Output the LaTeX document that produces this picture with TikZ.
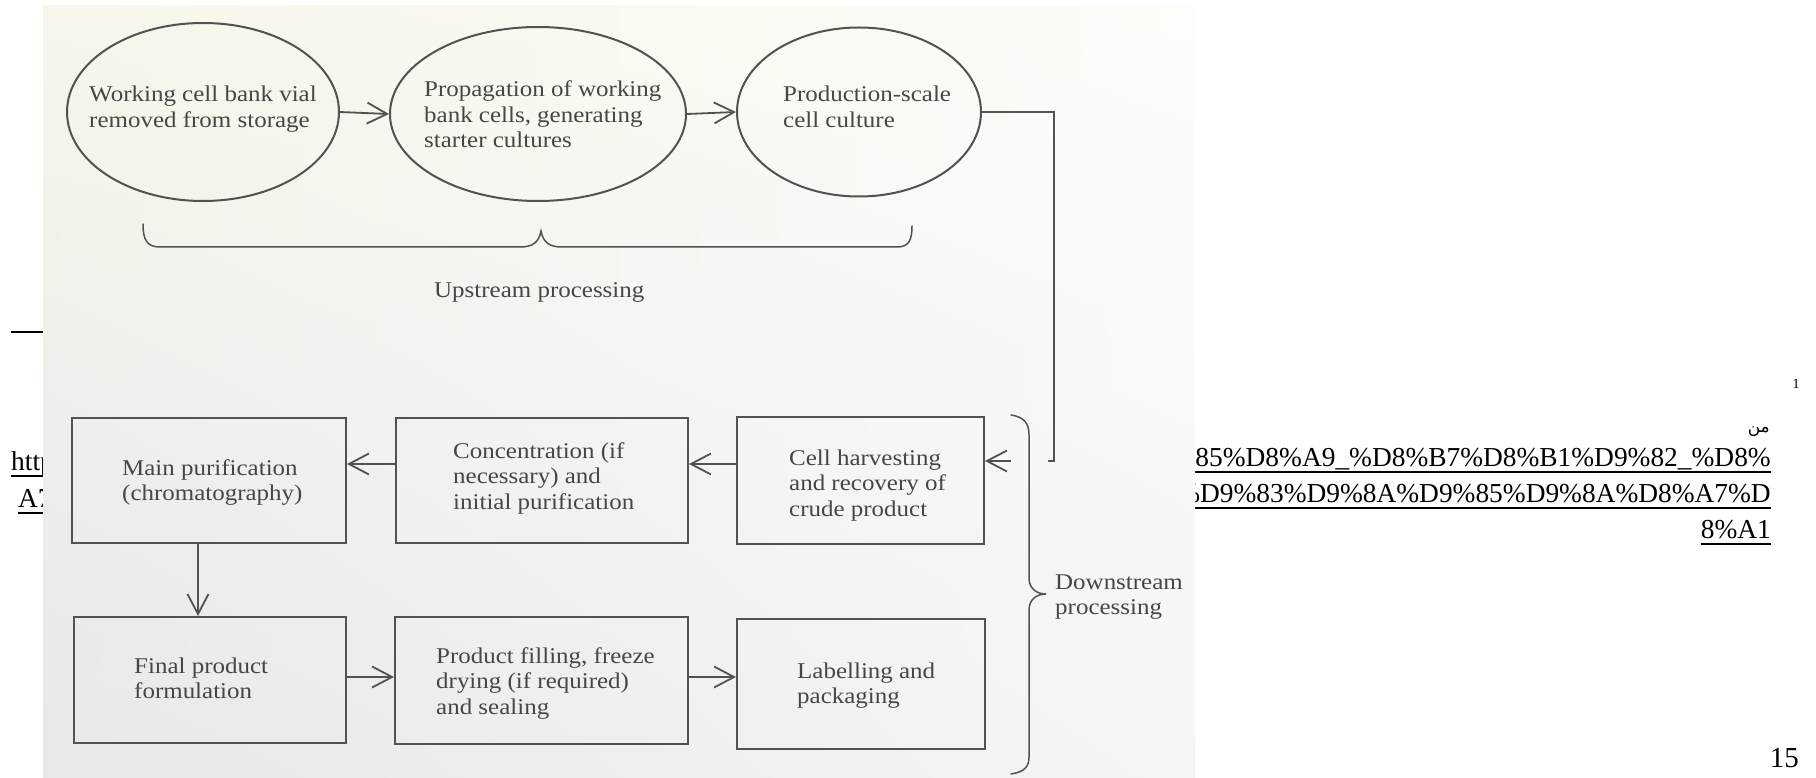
\documentclass[tikz,border=0pt]{standalone}
\usepackage{fontspec}
\setmainfont{Liberation Serif}
\newfontfamily\scanfont[FakeStretch=1.11]{Liberation Serif}
\newfontfamily\arabicfont[Script=Arabic]{DejaVu Sans}
\TeXXeTstate=1
\usetikzlibrary{arrows.meta,calc,shapes.geometric,shadings}

\definecolor{ink}{HTML}{525252}
\definecolor{inktext}{HTML}{464646}
\definecolor{scanUL}{HTML}{F8F6EA}
\definecolor{scanUR}{HTML}{FDFDF9}
\definecolor{scanLL}{HTML}{E8E7EB}
\definecolor{scanLR}{HTML}{F3F6F8}

% left-aligned block whose baseline is that of its first line
\newcommand{\stacklines}[1]{\begin{tabular}[t]{@{}l@{}}#1\end{tabular}}

\begin{document}
\begin{tikzpicture}[x=1pt,y=-1pt,
  doctext/.style={font=\fontsize{27.4}{27.4}\selectfont, text=black, inner sep=0pt},
  uline/.style={draw=black, line width=1.6pt},
  scantext/.style={font=\scanfont\fontsize{22.5}{25.5}\selectfont, text=inktext, inner sep=0pt, anchor=base west},
  ell/.style={draw=ink, line width=2pt, ellipse, inner sep=0pt},
  stepbox/.style={draw=ink, line width=2pt, rectangle, inner sep=0pt},
  link/.style={draw=ink, line width=1.7pt},
  arr/.style={draw=ink, line width=1.8pt, -{Straight Barb[length=20pt,width=21pt]}},
  bracepath/.style={draw=ink, line width=1.5pt, line cap=round}
]
\useasboundingbox (0,0) rectangle (1816,778);
\fill[white] (0,0) rectangle (1816,778);

% ---- page text lying behind the inserted scan ----
\draw[line width=2pt] (11,332) -- (70,332);
\node[doctext, anchor=base west] (urlL1) at (11,470) {https://ar};
\draw[uline] ([yshift=-6pt]urlL1.base west) -- ([yshift=-6pt]urlL1.base east);
\node[doctext, anchor=base west] (urlL2) at (18,507) {A7\%D8\%};
\draw[uline] ([yshift=-6pt]urlL2.base west) -- ([yshift=-6pt]urlL2.base east);

\node[doctext, anchor=base east] (urlR1) at (1771,466) {\%D9\%85\%D8\%A9\_\%D8\%B7\%D8\%B1\%D9\%82\_\%D8\%};
\draw[uline] ([yshift=-6pt]urlR1.base west) -- ([yshift=-6pt]urlR1.base east);
\node[doctext, anchor=base east] (urlR2) at (1771,502) {\%D9\%83\%D9\%8A\%D9\%85\%D9\%8A\%D8\%A7\%D};
\draw[uline] ([yshift=-6pt]urlR2.base west) -- ([yshift=-6pt]urlR2.base east);
\node[doctext, anchor=base east] (urlR3) at (1771,538) {8\%A1};
\draw[uline] ([yshift=-6pt]urlR3.base west) -- ([yshift=-6pt]urlR3.base east);

\node[font=\fontsize{14}{14}\selectfont, inner sep=0pt, anchor=base] (fnmark) at (1796,388) {1};
\node[font=\arabicfont\fontsize{17}{17}\selectfont, inner sep=0pt, anchor=base east] (fnword) at (1770,432) {\beginR من\endR};
\node[font=\fontsize{29}{29}\selectfont, inner sep=0pt, anchor=base east] (pageno) at (1799,767) {15};

% ---- the scanned figure ----
\shade[upper left=scanUL, upper right=scanUR, lower left=scanLL, lower right=scanLR]
  (43,6) rectangle (1195,778);

% upstream stages
\node[ell, minimum width=272pt, minimum height=178pt] (e1) at (203,112) {};
\node[ell, minimum width=296pt, minimum height=174pt] (e2) at (538,114) {};
\node[ell, minimum width=244pt, minimum height=169pt] (e3) at (859,112) {};
\node[scantext] (t1) at (89,102) {\stacklines{Working cell bank vial\\removed from storage}};
\node[scantext] (t2) at (424,97) {\stacklines{Propagation of working\\bank cells, generating\\starter cultures}};
\node[scantext] (t3) at (783,102) {\stacklines{Production-scale\\cell culture}};

\draw[arr] (e1.east) -- (e2.west);
\draw[arr] (e2.east) -- (e3.west);

% brace under the upstream stages
\draw[bracepath] (143,224) .. controls (143,240) and (147,247) .. (160,247)
  -- (520,247) .. controls (533,247) and (539,242) .. (541,231)
  .. controls (543,242) and (549,247) .. (562,247)
  -- (897,247) .. controls (909,247) and (912,240) .. (912,226);
\node[scantext] (up) at (434,298) {Upstream processing};

% downstream stages
\node[stepbox, minimum width=274pt, minimum height=125pt] (A) at (209,480.5) {};
\node[stepbox, minimum width=292pt, minimum height=125pt] (B) at (542,480) {};
\node[stepbox, minimum width=247pt, minimum height=127pt] (C) at (860.5,480.5) {};
\node[stepbox, minimum width=272pt, minimum height=126pt] (D) at (210,680) {};
\node[stepbox, minimum width=293pt, minimum height=127pt] (E) at (541.5,680.5) {};
\node[stepbox, minimum width=248pt, minimum height=130pt] (F) at (861,684) {};

\node[scantext] (tA) at (122,475) {\stacklines{Main purification\\(chromatography)}};
\node[scantext] (tB) at (453,458) {\stacklines{Concentration (if\\necessary) and\\initial purification}};
\node[scantext] (tC) at (789,465) {\stacklines{Cell harvesting\\and recovery of\\crude product}};
\node[scantext] (tD) at (134,673) {\stacklines{Final product\\formulation}};
\node[scantext] (tE) at (436,663) {\stacklines{Product filling, freeze\\drying (if required)\\and sealing}};
\node[scantext] (tF) at (797,678) {\stacklines{Labelling and\\packaging}};

\coordinate (row1) at (0,464);
\coordinate (row2) at (0,677);
\coordinate (col1) at (198,0);
\coordinate (bend) at (1054,0);
\coordinate (hook) at (1048,461);
\coordinate (cin) at (1011,461);

% link from the production culture down to harvesting
\draw[link] (e3.east) -- (e3.east -| bend) |- (hook);
\draw[arr] (cin) -- (cin -| C.east);

\draw[arr] (C.west |- row1) -- (B.east |- row1);
\draw[arr] (B.west |- row1) -- (A.east |- row1);
\draw[arr] (A.south -| col1) -- (D.north -| col1);
\draw[arr] (D.east |- row2) -- (E.west |- row2);
\draw[arr] (E.east |- row2) -- (F.west |- row2);

% brace gathering the downstream stages
\draw[bracepath] (1011,415) .. controls (1024,417) and (1029,423) .. (1029,435)
  -- (1029,578) .. controls (1029,588) and (1036,594) .. (1046,594)
  .. controls (1036,594) and (1029,600) .. (1029,610)
  -- (1029,757) .. controls (1029,767) and (1024,772) .. (1011,774);
\node[scantext] (down) at (1055,589) {\stacklines{Downstream\\processing}};
\end{tikzpicture}
\end{document}
